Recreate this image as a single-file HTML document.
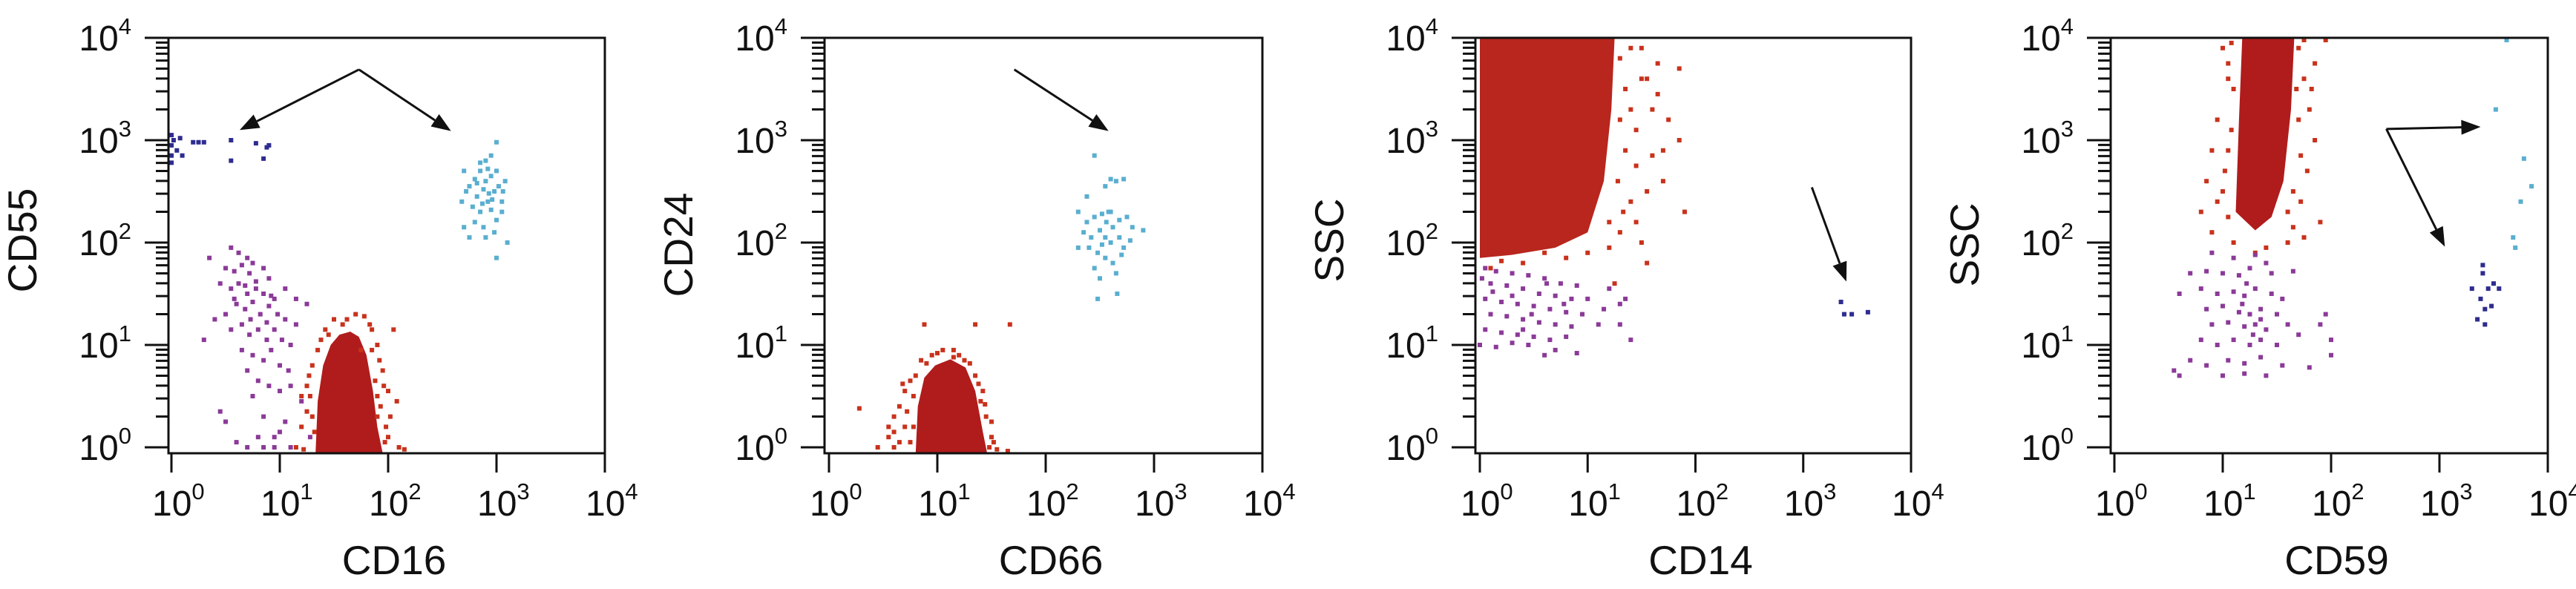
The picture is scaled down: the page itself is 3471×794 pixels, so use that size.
<!DOCTYPE html>
<html><head><meta charset="utf-8"><style>
html,body{margin:0;padding:0;background:#fff;width:3471px;height:794px;overflow:hidden}
svg text{font-family:"Liberation Sans",sans-serif;fill:#111}
</style></head><body>
<svg id="chart" width="3471" height="794" xmlns="http://www.w3.org/2000/svg"></svg>
<script>
// ---- data (log10 units) ----
const xTitles = ["CD16","CD66","CD14","CD59"];
const yTitles = ["CD55","CD24","SSC","SSC"];
const tickExps = [0,1,2,3,4];
// panel 1
const p1Blue = "0,3.05 0,2.95 0,2.85 0,2.78 0.02,3.0 0.05,2.9 0.08,3.02 0.1,2.85 0.2,2.98 0.25,2.98 0.3,2.98 0.55,3.0 0.55,2.8 0.78,2.97 0.9,2.95 0.85,2.82 0.88,2.93";
const p1Cyan = "2.7,2.7 2.75,2.55 2.8,2.62 2.82,2.45 2.85,2.7 2.88,2.52 2.9,2.6 2.92,2.4 2.95,2.65 2.98,2.5 3.0,2.7 3.02,2.55 2.78,2.35 2.85,2.3 2.95,2.32 3.05,2.4 3.08,2.6 2.72,2.5 2.68,2.4 2.9,2.8 2.95,2.85 3.0,2.98 2.85,2.78 2.8,2.2 2.88,2.15 3.0,2.22 3.05,2.3 2.7,2.15 2.75,2.05 2.9,2.05 2.98,2.1 3.1,2.0 3.0,1.85 2.92,2.72 2.82,2.58 2.96,2.42 3.06,2.5 2.87,2.38 2.93,2.48";
const p1Purple = "0.55,1.95 0.62,1.9 0.7,1.85 0.75,1.8 0.35,1.85 0.5,1.75 0.58,1.72 0.65,1.78 0.72,1.7 0.85,1.75 0.9,1.65 0.45,1.6 0.55,1.55 0.62,1.6 0.7,1.5 0.78,1.55 0.85,1.5 0.95,1.45 1.05,1.55 1.15,1.45 1.25,1.4 0.6,1.4 0.68,1.35 0.75,1.42 0.82,1.3 0.9,1.38 0.98,1.3 1.05,1.25 1.15,1.2 0.5,1.3 0.4,1.25 0.55,1.15 0.65,1.2 0.72,1.1 0.8,1.15 0.88,1.05 0.95,1.15 1.02,1.05 1.1,1.0 0.3,1.05 0.65,0.95 0.75,0.9 0.85,0.85 0.92,0.95 1.0,0.8 1.08,0.75 0.7,0.75 0.8,0.65 0.9,0.6 1.0,0.55 1.1,0.6 0.45,0.35 0.5,0.25 0.85,0.3 1.05,0.25 0.8,0.1 0.95,0.1 1.0,0.15 0.7,0.0 0.85,0.0 0.95,0.0 1.1,0.0 1.2,0.45 1.28,0.1 0.75,0.5 0.6,0.05 0.78,1.62 0.68,1.58 0.92,1.48 0.58,1.45 0.73,1.25 0.88,1.22";
const p1Red = "1.33,-0.06 1.35,0.45 1.4,0.8 1.47,1.0 1.55,1.1 1.65,1.13 1.73,1.08 1.8,0.9 1.86,0.55 1.9,0.2 1.95,-0.06";
const p1RedDots = "1.2,0.2 1.25,0.6 1.3,0.8 1.38,1.05 1.42,1.15 1.5,1.25 1.62,1.25 1.7,1.3 1.78,1.28 1.85,1.15 1.9,1.0 1.95,0.75 2.05,1.15 2.0,0.55 2.02,0.3 2.1,0.0 2.15,-0.02 1.9,0.5 1.85,0.95 1.3,0.3 1.22,-0.02 1.15,0.0 1.28,0.5 1.98,0.2 1.75,0.95 1.88,0.65 1.27,0.7 1.32,0.15 1.25,0.35 1.93,0.4 1.97,0.05 1.92,0.85 2.0,0.1 1.35,0.95 1.83,1.2 1.58,1.2 1.45,1.1 1.96,0.6 1.9,0.3 1.2,0.5 2.08,0.45";
const p1Arrows = [[1.73,3.69,0.63,3.1],[1.73,3.69,2.58,3.09]];
// panel 2
const p2Cyan = "2.45,2.85 2.38,2.45 2.55,2.55 2.6,2.62 2.65,2.6 2.72,2.62 2.3,2.3 2.38,2.2 2.45,2.25 2.52,2.28 2.58,2.3 2.62,2.15 2.68,2.22 2.75,2.25 2.8,2.15 2.9,2.12 2.35,2.1 2.42,2.05 2.5,2.12 2.55,2.05 2.6,2.0 2.68,2.05 2.72,1.95 2.4,1.95 2.48,1.9 2.55,1.85 2.62,1.8 2.7,1.88 2.3,1.95 2.45,1.75 2.5,1.65 2.65,1.7 2.48,1.45 2.66,1.5 2.6,2.3 2.56,2.2 2.52,1.98 2.78,2.02";
const p2Red = "0.8,-0.06 0.82,0.4 0.88,0.68 0.98,0.8 1.12,0.86 1.26,0.78 1.35,0.55 1.42,0.15 1.46,-0.06";
const p2RedDots = "0.45,0.0 0.55,0.1 0.6,0.3 0.65,0.4 0.7,0.55 0.75,0.65 0.8,0.7 0.85,0.85 0.95,0.9 1.05,0.95 1.15,0.88 1.25,0.85 1.35,0.7 1.42,0.55 1.45,0.3 1.5,0.1 1.55,-0.02 1.65,-0.04 0.7,0.2 0.75,0.05 1.4,0.45 0.88,1.2 1.35,1.2 1.67,1.2 1.15,0.95 0.28,0.38 0.6,0.15 1.48,0.0 0.65,0.05 0.72,0.35 0.78,0.5 0.78,0.2 0.68,0.62 0.9,0.82 1.3,0.82 1.38,0.62 1.44,0.42 1.5,0.25 1.52,0.05 1.0,0.92 1.2,0.9 0.6,0.0 0.55,0.2";
const p2Arrows = [[1.71,3.69,2.58,3.09]];
// panel 3
const p3Red = "0,1.85 0,4.0 1.25,4.0 1.22,3.3 1.15,2.6 1.0,2.1 0.7,1.95 0.3,1.88";
const p3RedDots = "1.5,3.9 1.55,3.6 1.65,3.75 1.75,3.2 1.85,3.7 1.85,3.0 1.9,2.3 1.6,3.3 1.7,2.9 1.55,2.5 1.45,2.75 1.4,2.4 1.5,2.0 1.3,2.1 1.2,1.95 1.0,1.9 0.8,1.85 0.6,1.9 0.4,1.8 0.2,1.82 0.1,1.75 1.6,2.85 1.65,3.45 1.35,2.9 1.45,3.1 1.7,2.6 1.25,1.6 1.55,1.8 1.3,3.8 1.35,3.5 1.3,3.2 1.4,3.9 1.28,2.6 1.33,2.3 1.2,2.2 1.4,3.3 1.5,3.6 1.45,2.2";
const p3Purple = "0.05,1.75 0.15,1.72 0.3,1.7 0.45,1.68 0.6,1.65 0.75,1.6 0.9,1.58 1.2,1.55 0.1,1.6 0.25,1.58 0.4,1.55 0.55,1.5 0.7,1.48 0.85,1.45 1.0,1.45 1.3,1.4 0.05,1.45 0.2,1.42 0.35,1.4 0.5,1.38 0.65,1.35 0.8,1.32 0.95,1.3 1.15,1.35 0.1,1.3 0.25,1.28 0.4,1.25 0.55,1.22 0.7,1.2 0.85,1.18 1.1,1.2 0.05,1.15 0.2,1.12 0.35,1.1 0.5,1.08 0.65,1.05 0.8,1.08 0.0,1.0 0.15,0.98 0.3,1.02 0.7,0.95 0.9,0.92 1.3,1.2 1.35,1.45 1.4,1.05 0.6,0.9 0.45,1.0 0.02,1.65 0.12,1.52 0.3,1.48 0.48,1.3 0.62,1.6 0.78,1.4 0.4,1.15";
const p3Blue = "3.35,1.42 3.38,1.3 3.45,1.3 3.6,1.32";
const p3Arrows = [[3.08,2.54,3.4,1.62]];
// panel 4
const p4Red = "1.12,2.3 1.15,3.2 1.18,4.0 1.66,4.0 1.63,3.3 1.56,2.6 1.45,2.25 1.3,2.12";
const p4RedDots = "1.0,3.9 1.05,3.6 0.95,3.2 0.9,2.9 0.85,2.6 0.8,2.3 0.9,2.1 1.0,2.5 1.05,2.9 1.1,3.5 1.7,3.9 1.75,3.6 1.8,3.3 1.85,3.0 1.78,2.7 1.72,2.4 1.9,2.2 1.65,2.15 1.6,2.0 1.4,1.95 1.1,2.0 1.3,1.9 1.95,4.0 1.85,3.75 0.95,2.4 1.75,2.05 1.82,3.5 1.05,3.75 1.08,3.1 1.02,2.7 1.7,3.2 1.72,2.85 1.68,3.5 1.65,2.5 1.05,2.25 1.6,2.3 1.08,3.95 1.75,4.0";
const p4Purple = "0.9,1.9 1.1,1.85 1.3,1.88 1.4,1.8 0.7,1.7 0.85,1.72 1.0,1.7 1.15,1.68 1.25,1.75 1.45,1.7 1.65,1.72 0.6,1.5 0.8,1.55 0.95,1.5 1.1,1.52 1.2,1.48 1.3,1.55 1.45,1.5 1.55,1.45 0.85,1.35 1.0,1.38 1.15,1.32 1.25,1.3 1.35,1.35 1.5,1.3 0.9,1.2 1.05,1.22 1.2,1.18 1.3,1.2 1.4,1.15 1.6,1.2 1.9,1.2 2.0,1.05 0.8,1.05 0.95,1.0 1.1,1.05 1.25,1.0 1.35,1.05 1.5,1.0 1.7,1.1 0.7,0.85 0.85,0.8 1.05,0.85 1.2,0.82 1.35,0.88 1.55,0.8 1.8,0.78 0.55,0.75 0.6,0.7 1.0,0.7 1.2,0.72 1.4,0.7 2.0,0.9 1.95,1.3 1.18,1.4 1.28,1.1 1.22,1.6 1.35,1.25";
const p4Blue = "3.3,1.55 3.4,1.7 3.4,1.78 3.45,1.55 3.5,1.6 3.55,1.55 3.38,1.45 3.42,1.35 3.48,1.38 3.35,1.25 3.42,1.2";
const p4Cyan = "3.52,3.3 3.62,4.0 3.78,2.82 3.75,2.4 3.85,2.55 3.68,2.05 3.7,1.95";
const p4Arrows = [[2.51,3.11,3.38,3.13],[2.51,3.11,3.05,1.96]];

// ---- layout ----
const panels = [
  {x0:231,x4:815,left:227,right:815,pts:[[p1Purple,'#8b3a98','purple'],[p1RedDots,'#c8321c','red-fringe'],[p1Blue,'#2e2c8e','blue'],[p1Cyan,'#5aaed0','cyan']],blob:p1Red,arrows:p1Arrows},
  {x0:1117,x4:1701,left:1111,right:1701,pts:[[p2RedDots,'#c8321c','red-fringe'],[p2Cyan,'#5aaed0','cyan']],blob:p2Red,arrows:p2Arrows},
  {x0:1994,x4:2575,left:1988,right:2575,pts:[[p3RedDots,'#c8321c','red-fringe'],[p3Purple,'#8b3a98','purple'],[p3Blue,'#2e2c8e','blue']],blob:p3Red,arrows:p3Arrows},
  {x0:2849,x4:3433,left:2844,right:3433,pts:[[p4RedDots,'#c8321c','red-fringe'],[p4Purple,'#8b3a98','purple'],[p4Blue,'#2e2c8e','blue'],[p4Cyan,'#5aaed0','cyan']],blob:p4Red,arrows:p4Arrows}
];
const TOP=51, BOT=611, Y0=603, Y4=51;
const svg=document.getElementById('chart');
const NS='http://www.w3.org/2000/svg';
function mk(tag,attrs,parent){const e=document.createElementNS(NS,tag);for(const k in attrs)e.setAttribute(k,attrs[k]);(parent||svg).appendChild(e);return e;}
function parse(s){return s.trim().split(/\s+/).map(p=>p.split(',').map(Number));}
const yS=v=>Y0-(Y0-Y4)*v/4;

panels.forEach((P,i)=>{
  const xS=v=>P.x0+(P.x4-P.x0)*v/4;
  const g=mk('g',{});
  
  
  const bp=parse(P.blob).map(([a,b])=>xS(a)+','+Math.min(BOT,Math.max(TOP,yS(b)))).join(' ');
  const blob=mk('polygon',{points:bp,fill:i===2?'#b8261e':'#b01c1c'},g);
  
  
  P.pts.forEach(([s,c,n])=>{
    const pg=mk('g',{fill:c},g);
    
    
    parse(s).forEach(([a,b])=>{
      const r=mk('rect',{x:xS(a)-3,y:Math.max(TOP,Math.min(BOT-6,yS(b)-3)),width:6,height:6},pg);
      
      
    });
  });
  const fr=mk('path',{d:`M${P.left-32},${TOP}H${P.right}V${BOT}H${P.left}V${TOP}`,fill:'none',stroke:'#111','stroke-width':3},g);
  
  
  for(let d=0;d<4;d++){for(let m=2;m<=9;m++){const yy=yS(d+Math.log10(m));
    const t=mk('line',{x1:P.left-17,x2:P.left,y1:yy,y2:yy,stroke:'#111','stroke-width':3},g);
    }}
  tickExps.forEach(e=>{
    const yy=yS(e);
    const t=mk('line',{x1:P.left-32,x2:P.left,y1:yy,y2:yy,stroke:'#111','stroke-width':3},g);
    
    const tx=mk('text',{x:P.left-50,y:yy+17,'font-size':48,'text-anchor':'end'},g);
    tx.innerHTML='10<tspan dy="-22" font-size="31">'+e+'</tspan>';
    
    const xx=xS(e);
    const t2=mk('line',{x1:xx,x2:xx,y1:BOT,y2:BOT+26,stroke:'#111','stroke-width':3},g);
    
    const tx2=mk('text',{x:xx-26,y:695,'font-size':48},g);
    tx2.innerHTML='10<tspan dy="-22" font-size="31">'+e+'</tspan>';
    
  });
  const xt=mk('text',{x:(P.left+P.right)/2+10,y:774,'font-size':55,'text-anchor':'middle'},g);
  xt.textContent=xTitles[i];
  
  const yt=mk('text',{x:0,y:0,'font-size':55,'text-anchor':'middle',transform:`translate(${P.left-178},${i%2?330:324}) rotate(-90)`},g);
  yt.textContent=yTitles[i];
  
  P.arrows.forEach(([a,b,c,d])=>{
    const x1=xS(a),y1=yS(b),x2=xS(c),y2=yS(d);
    const ang=Math.atan2(y2-y1,x2-x1),L=26,W=10;
    const bx=x2-L*Math.cos(ang),by=y2-L*Math.sin(ang);
    const ag=mk('g',{},g);
    
    mk('line',{x1:x1,y1:y1,x2:bx,y2:by,stroke:'#111','stroke-width':3},ag);
    mk('polygon',{points:`${x2},${y2} ${bx+W*Math.sin(ang)},${by-W*Math.cos(ang)} ${bx-W*Math.sin(ang)},${by+W*Math.cos(ang)}`,fill:'#111'},ag);
  });
});
</script>
</body></html>
